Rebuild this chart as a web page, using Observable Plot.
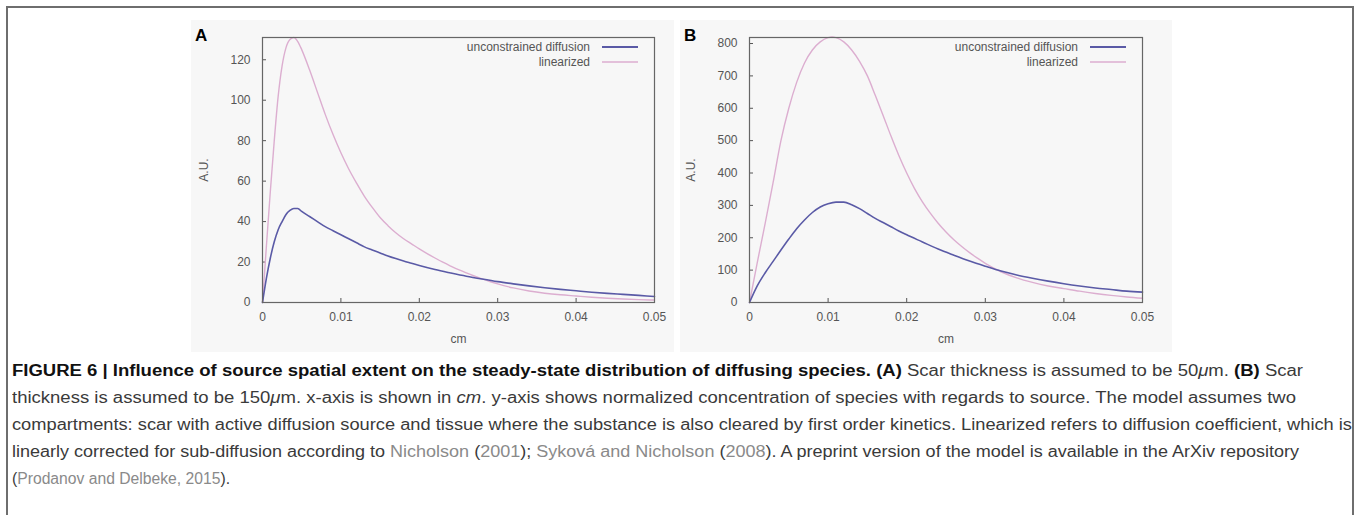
<!DOCTYPE html>
<html>
<head>
<meta charset="utf-8">
<script src="https://cdn.jsdelivr.net/npm/d3@7"></script>
<script src="https://cdn.jsdelivr.net/npm/@observablehq/plot@0.6"></script>
<style>
  html, body { margin: 0; padding: 0; background: #fff; }
  body { width: 1358px; height: 515px; position: relative; overflow: hidden; font-family: "Liberation Sans", Arial, sans-serif; }
  #border { position: absolute; left: 6px; top: 6px; width: 1348px; height: 600px; border: 2px solid #6e6e6e; box-sizing: border-box; }
  .panel { position: absolute; top: 20px; background: #f7f7f7; }
  .panel svg { display: block; background: #f7f7f7; }
  .plabel { position: absolute; left: 4px; top: 6px; font: bold 17px "Liberation Sans", Arial, sans-serif; color: #000; }
  #caption { position: absolute; left: 12px; top: 357px; font-size: 16px; color: #3a3a3a; line-height: 27px; }
  #caption .ln { white-space: nowrap; transform-origin: 0 50%; height: 27px; }
  #caption b { color: #111; }
  #caption .ref { color: #8a8a8a; }
</style>
</head>
<body>
<div id="border"></div>
<div id="panelA" class="panel" style="left:191px"><div class="plabel">A</div></div>
<div id="panelB" class="panel" style="left:680px"><div class="plabel">B</div></div>
<div id="caption">
  <div class="ln" data-w="1291"><b>FIGURE 6 | Influence of source spatial extent on the steady-state distribution of diffusing species. (A)</b> Scar thickness is assumed to be 50<i>μ</i>m. <b>(B)</b> Scar</div>
  <div class="ln" data-w="1284">thickness is assumed to be 150<i>μ</i>m. x-axis is shown in <i>cm</i>. y-axis shows normalized concentration of species with regards to source. The model assumes two</div>
  <div class="ln" data-w="1340">compartments: scar with active diffusion source and tissue where the substance is also cleared by first order kinetics. Linearized refers to diffusion coefficient, which is</div>
  <div class="ln" data-w="1287">linearly corrected for sub-diffusion according to <span class="ref">Nicholson</span> (<span class="ref">2001</span>); <span class="ref">Syková and Nicholson</span> (<span class="ref">2008</span>). A preprint version of the model is available in the ArXiv repository</div>
  <div class="ln" data-w="218">(<span class="ref">Prodanov and Delbeke, 2015</span>).</div>
</div>
<script>
// ---------- data ----------
const seriesNames = ["unconstrained diffusion", "linearized"];
const xTicks = [0, 0.01, 0.02, 0.03, 0.04, 0.05];
const yTicksA = [0, 20, 40, 60, 80, 100, 120];
const yTicksB = [0, 100, 200, 300, 400, 500, 600, 700, 800];

// Panel A (scar 50 µm)
const xA_unc = [0,0.0005,0.001,0.0015,0.002,0.0025,0.003,0.0035,0.004,0.0045,0.005,0.006,0.007,0.008,0.009,0.010,0.011,0.012,0.013,0.014,0.015,0.016,0.017,0.018,0.019,0.020,0.022,0.024,0.026,0.028,0.030,0.032,0.034,0.036,0.038,0.040,0.042,0.044,0.046,0.048,0.050];
const yA_unc = [0,12,22,30,36,40,43.5,45.5,46.5,46.5,45,42.5,40,37.5,35.5,33.5,31.5,29.5,27.5,26,24.5,23,21.7,20.5,19.4,18.3,16.3,14.6,13,11.6,10.3,9.2,8.2,7.3,6.5,5.8,5.1,4.5,4,3.5,3];
const xA_lin = [0,0.0005,0.001,0.0015,0.002,0.0025,0.003,0.0035,0.004,0.0045,0.005,0.006,0.007,0.008,0.009,0.010,0.011,0.012,0.013,0.014,0.015,0.016,0.017,0.018,0.019,0.020,0.021,0.022,0.023,0.024,0.025,0.026,0.027,0.028,0.029,0.030,0.032,0.034,0.036,0.038,0.040,0.042,0.044,0.046,0.048,0.050];
const yA_lin = [0,28,55,80,102,117,126,130,131,129,125,115,104,93,83,74,66,59,52.5,47,42,38,34.5,31.5,29,26.5,24.2,22,19.9,18,16.2,14.6,13.1,11.7,10.4,9.2,7.2,5.7,4.6,3.8,3.2,2.6,2.1,1.7,1.4,1.2];

// Panel B (scar 150 µm)
const xB_unc = [0,0.001,0.002,0.003,0.004,0.005,0.006,0.007,0.008,0.009,0.010,0.011,0.012,0.013,0.014,0.015,0.016,0.017,0.018,0.019,0.020,0.022,0.024,0.026,0.028,0.030,0.032,0.034,0.036,0.038,0.040,0.042,0.044,0.046,0.048,0.050];
const yB_unc = [0,52,92,127,162,196,228,255,278,295,305,310,310,302,290,275,260,247,234,221,209,187,165,146,128,112,97,85,75,66,58,51,45,40,35,32];
const xB_lin = [0,0.001,0.002,0.003,0.004,0.005,0.006,0.007,0.008,0.009,0.010,0.0105,0.011,0.012,0.013,0.014,0.015,0.016,0.017,0.018,0.019,0.020,0.021,0.022,0.023,0.024,0.025,0.026,0.027,0.028,0.029,0.030,0.032,0.034,0.036,0.038,0.040,0.042,0.044,0.046,0.048,0.050];
const yB_lin = [0,125,245,370,500,600,680,740,780,805,818,820,818,805,780,745,700,640,578,514,454,400,352,311,276,245,218,194,173,154,137,121,95,76,62,51,43,35,28,22,17,13];

const colors = {"unconstrained diffusion": "#5a5aa6", "linearized": "#dcaed0"};

function toRows(xs, ys, name) { return xs.map((x, i) => ({x, y: ys[i], series: name})); }

function legendMark() {
  return (index, scales, values, dim) => {
    const ns = "http://www.w3.org/2000/svg";
    const g = document.createElementNS(ns, "g");
    const right = dim.width - dim.marginRight;
    const top = dim.marginTop;
    seriesNames.forEach((name, i) => {
      const yy = top + 10 + i * 15;
      const t = document.createElementNS(ns, "text");
      t.setAttribute("x", right - 64);
      t.setAttribute("y", yy);
      t.setAttribute("dy", "0.35em");
      t.setAttribute("text-anchor", "end");
      t.setAttribute("fill", "#555");
      t.setAttribute("font-size", "12");
      t.textContent = name;
      g.appendChild(t);
      const l = document.createElementNS(ns, "line");
      l.setAttribute("x1", right - 52);
      l.setAttribute("x2", right - 16);
      l.setAttribute("y1", yy);
      l.setAttribute("y2", yy);
      l.setAttribute("stroke", colors[name]);
      l.setAttribute("stroke-width", i === 0 ? 2 : 1.5);
      g.appendChild(l);
    });
    return g;
  };
}

function makePlot(cfg) {
  const data = [...toRows(cfg.xu, cfg.yu, seriesNames[0]), ...toRows(cfg.xl, cfg.yl, seriesNames[1])];
  return Plot.plot({
    width: cfg.width, height: 332,
    marginLeft: cfg.ml, marginRight: cfg.mr, marginTop: 17, marginBottom: 50,
    style: {background: "#f7f7f7", fontFamily: "'Liberation Sans', Arial, sans-serif", fontSize: "12px", color: "#555"},
    x: {domain: [0, 0.05]},
    y: {domain: [0, cfg.ymax]},
    marks: [
      Plot.axisX({ticks: xTicks, tickFormat: d => d === 0 ? "0" : d3.format(".2")(d), tickSize: -4, tickPadding: 14, label: "cm", labelAnchor: "center", labelArrow: "none", labelOffset: 40, stroke: "#555", fill: "#555"}),
      Plot.axisY({ticks: cfg.yticks, tickSize: -4, tickPadding: 16, label: "A.U.", labelAnchor: "center", labelArrow: "none", labelOffset: cfg.lo, stroke: "#555", fill: "#555"}),
      Plot.line(data.filter(d => d.series === seriesNames[1]), {x: "x", y: "y", stroke: colors["linearized"], strokeWidth: 1.4, curve: "monotone-x"}),
      Plot.line(data.filter(d => d.series === seriesNames[0]), {x: "x", y: "y", stroke: colors["unconstrained diffusion"], strokeWidth: 1.6, curve: "monotone-x"}),
      Plot.frame({stroke: "#666", strokeWidth: 1.2}),
      legendMark()
    ]
  });
}

const pA = makePlot({width: 483, ml: 71, mr: 20, ymax: 131, yticks: yTicksA, xu: xA_unc, yu: yA_unc, xl: xA_lin, yl: yA_lin, lo: 63});
const pB = makePlot({width: 492, ml: 69, mr: 30, ymax: 818.6, yticks: yTicksB, xu: xB_unc, yu: yB_unc, xl: xB_lin, yl: yB_lin, lo: 63});
document.getElementById("panelA").appendChild(pA);
document.getElementById("panelB").appendChild(pB);

// fit caption lines to their measured widths
document.querySelectorAll("#caption .ln").forEach(el => {
  const target = +el.dataset.w;
  el.style.display = "inline-block";
  const w = el.getBoundingClientRect().width;
  el.style.display = "block";
  el.style.width = w + "px";
  el.style.transform = `scaleX(${target / w})`;
});
</script>
</body>
</html>
